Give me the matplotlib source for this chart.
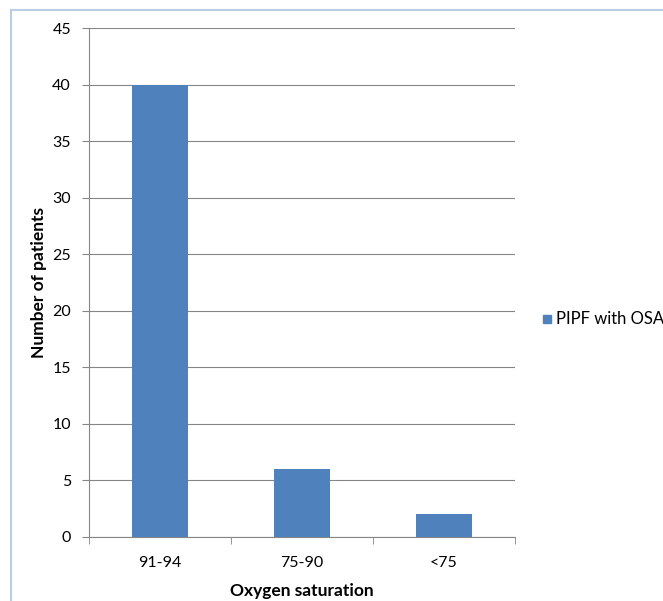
import matplotlib
matplotlib.use("Agg")
import matplotlib.pyplot as plt
from matplotlib.patches import Rectangle
import numpy as np

categories = ["91-94", "75-90", "<75"]
patients = [40, 6, 2]
series_name = "PIPF with OSA"

BAR = "#4f81bd"
GRID = "#868686"

plt.rcParams["font.family"] = ["Lato", "DejaVu Sans"]

W, H = 663, 601
fig = plt.figure(figsize=(W / 100, H / 100), dpi=100)

# light blue chart frame (runs off right/bottom like the screenshot)
fig.patches.append(Rectangle((11 / W, -0.1), 1.2, 1 - 10 / H + 0.1,
                             transform=fig.transFigure, fill=False,
                             edgecolor="#b9cde5", lw=1.5))

ax = fig.add_axes([89 / W, 64 / H, 426 / W, 509 / H])
x = np.arange(len(categories))
ax.bar(x, patients, width=0.4, color=BAR, zorder=3, label=series_name)

ax.set_xlim(-0.5, len(categories) - 0.5)
ax.set_ylim(0, 45)
ax.set_yticks(range(0, 46, 5))
ax.yaxis.grid(True, color=GRID, lw=0.8)
ax.set_axisbelow(True)
for s in ("top", "right"):
    ax.spines[s].set_visible(False)
for s in ("left", "bottom"):
    ax.spines[s].set_color(GRID)

ax.set_xticks(x)
ax.set_xticklabels(categories)
ax.tick_params(axis="x", length=0, pad=14, labelsize=11.5)
ax.set_xticks(np.arange(-0.5, len(categories)), minor=True)
ax.tick_params(axis="x", which="minor", length=5, color=GRID, direction="out")
ax.tick_params(axis="y", length=5, color=GRID, labelsize=11.5, pad=8)

ax.set_xlabel("Oxygen saturation", fontsize=12.5, fontweight="bold", labelpad=9)
ax.set_ylabel("Number of patients", fontsize=12.5, fontweight="bold", labelpad=4)

# legend at the right edge, clipped by the figure like the original
fig.patches.append(Rectangle((543 / W, (H - 323) / H), 8 / W, 8 / H,
                             transform=fig.transFigure, color=BAR))
fig.text(556 / W, (H - 319) / H, series_name, fontsize=12, va="center")

fig.savefig("out.png", dpi=100)
